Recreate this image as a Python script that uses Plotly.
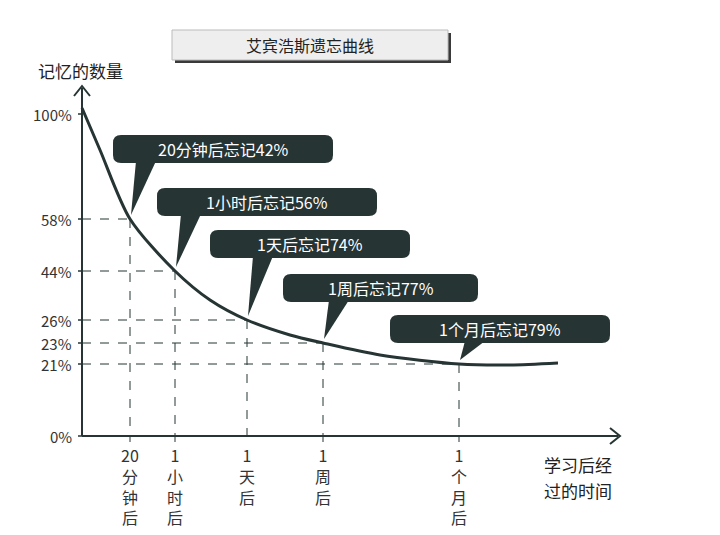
import plotly.graph_objects as go

# data (display positions)
pct_labels = ["100%", "58%", "44%", "26%", "23%", "21%", "0%"]
pct_pos = [114, 219, 271, 320, 343, 364, 436]
time_labels = ["20<br>分<br>钟<br>后", "1<br>小<br>时<br>后", "1<br>天<br>后", "1<br>周<br>后", "1<br>个<br>月<br>后"]
time_pos = [130, 175, 247, 323, 459]
point_y = [219, 271, 320, 343, 364]
callouts = ["20分钟后忘记42%", "1小时后忘记56%", "1天后忘记74%", "1周后忘记77%", "1个月后忘记79%"]
box_x0 = [113, 157, 210, 283, 390]
box_x1 = [333, 377, 410, 478, 610]
box_y0 = [135, 188, 230, 274, 315]
curve_x = [82, 100, 130, 175, 210, 247, 290, 323, 380, 459, 510, 558]
curve_y = [108, 150, 219, 271, 300, 320, 335, 343, 355, 364, 365, 363]

DARK = "#263434"
FONT = "Noto Sans CJK SC"
fig = go.Figure()
fig.add_trace(go.Scatter(x=curve_x, y=curve_y, mode="lines",
                         line=dict(color=DARK, width=3, shape="spline", smoothing=0.8),
                         hoverinfo="skip"))
shapes, ann = [], []
shapes.append(dict(type="line", x0=82, y0=436, x1=82, y1=88, line=dict(color=DARK, width=2)))
shapes.append(dict(type="line", x0=82, y0=436, x1=618, y1=436, line=dict(color=DARK, width=2)))
shapes.append(dict(type="path", path="M 74 96 L 82 86 L 90 96", line=dict(color=DARK, width=2)))
shapes.append(dict(type="path", path="M 610 428 L 620 436 L 610 444", line=dict(color=DARK, width=2)))

def rrect(x0, y0, x1, y1, r=8):
    return (f"M {x0+r} {y0} L {x1-r} {y0} Q {x1} {y0} {x1} {y0+r} L {x1} {y1-r} Q {x1} {y1} {x1-r} {y1} "
            f"L {x0+r} {y1} Q {x0} {y1} {x0} {y1-r} L {x0} {y0+r} Q {x0} {y0} {x0+r} {y0} Z")

for lab, p in zip(pct_labels, pct_pos):
    ann.append(dict(x=74, y=p, text=lab, xanchor="right", yanchor="middle", showarrow=False,
                    font=dict(size=15, color="#333")))
    shapes.append(dict(type="line", x0=78, x1=82, y0=p, y1=p, line=dict(color=DARK, width=1.5)))
for i, (lab, xp) in enumerate(zip(time_labels, time_pos)):
    yp = point_y[i]
    shapes.append(dict(type="line", x0=82, x1=xp, y0=yp, y1=yp, line=dict(color=DARK, width=1, dash="dash")))
    shapes.append(dict(type="line", x0=xp, x1=xp, y0=yp, y1=442, line=dict(color=DARK, width=1, dash="dash")))
    ann.append(dict(x=xp, y=441, text=lab, xanchor="center", yanchor="top", showarrow=False,
                    font=dict(size=16, color="#333")))
    bx0, bx1, by0 = box_x0[i], box_x1[i], box_y0[i]
    by1 = by0 + 28
    shapes.append(dict(type="path", path=rrect(bx0, by0, bx1, by1), fillcolor=DARK, line=dict(width=0)))
    shapes.append(dict(type="path", path=f"M {xp+6} {by1-2} L {xp+26} {by1-2} L {xp+1} {yp-4} Z",
                       fillcolor=DARK, line=dict(width=0)))
    ann.append(dict(x=(bx0 + bx1) / 2, y=by0 + 14, text=callouts[i], showarrow=False,
                    font=dict(size=16, color="white")))
shapes.append(dict(type="rect", x0=175, y0=33, x1=451, y1=63, fillcolor="#3a3a3a", line=dict(width=0)))
shapes.append(dict(type="rect", x0=172, y0=30, x1=448, y1=60, fillcolor="#eeeeee", line=dict(color="#bbb", width=1)))
ann.append(dict(x=310, y=45, text="艾宾浩斯遗忘曲线", showarrow=False, font=dict(size=16, color="#222")))
ann.append(dict(x=80, y=70, text="记忆的数量", showarrow=False, font=dict(size=17, color="#222")))
ann.append(dict(x=578, y=464, text="学习后经", showarrow=False, font=dict(size=17, color="#222")))
ann.append(dict(x=578, y=490, text="过的时间", showarrow=False, font=dict(size=17, color="#222")))

fig.update_layout(width=720, height=535, margin=dict(l=0, r=0, t=0, b=0),
                  plot_bgcolor="white", paper_bgcolor="white", showlegend=False,
                  font=dict(family=FONT),
                  xaxis=dict(range=[8, 728], visible=False, fixedrange=True),
                  yaxis=dict(range=[543, 8], visible=False, fixedrange=True),
                  shapes=shapes, annotations=ann)
fig.write_html("out.html")
